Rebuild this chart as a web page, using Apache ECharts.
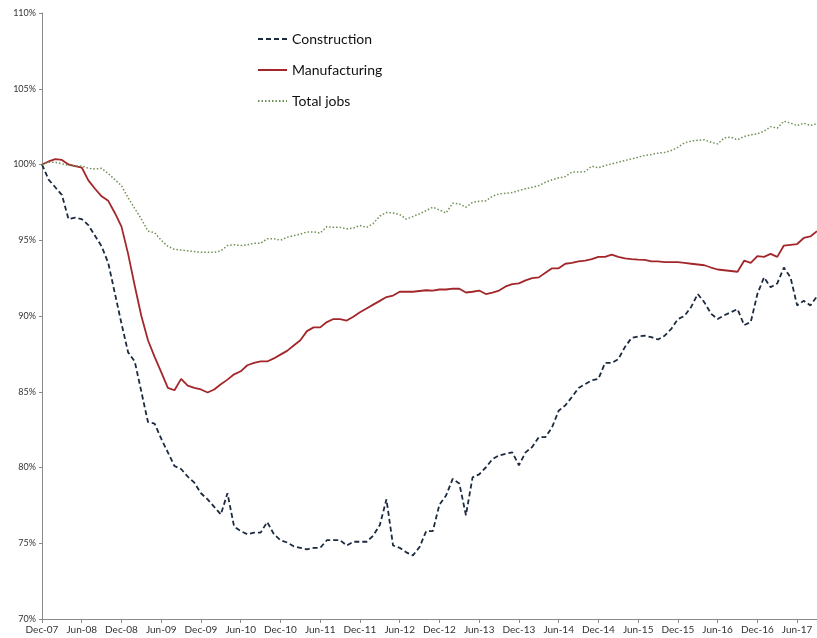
<!DOCTYPE html>
<html>
<head>
<meta charset="utf-8">
<script src="https://cdn.jsdelivr.net/npm/echarts@6/dist/echarts.min.js"></script>
<style>
  html, body { margin: 0; padding: 0; background: #fff; }
  #chart { width: 817px; height: 638px; }
</style>
</head>
<body>
<div id="chart"></div>
<script>
// monthly, Dec-07 .. Sep-17 (index relative to Dec-07 = 100%)
const monthNames = ['Jan', 'Feb', 'Mar', 'Apr', 'May', 'Jun', 'Jul', 'Aug', 'Sep', 'Oct', 'Nov', 'Dec']
const months = []
for (let i = 0; i < 118; i++) {
  const m = (11 + i) % 12
  const y = 7 + Math.floor((11 + i) / 12)
  months.push(monthNames[m] + '-' + String(y).padStart(2, '0'))
}

const construction = [
  100, 99.0, 98.5, 98.0, 96.4, 96.5, 96.4, 96.0, 95.3, 94.6,
  93.5, 91.5, 89.5, 87.6, 87.0, 85.0, 83.0, 82.9, 81.9, 81.0,
  80.1, 79.9, 79.4, 79.0, 78.3, 77.9, 77.4, 76.9, 78.3, 76.1,
  75.8, 75.6, 75.7, 75.7, 76.4, 75.6, 75.2, 75.05, 74.8, 74.7,
  74.6, 74.7, 74.7, 75.2, 75.2, 75.2, 74.85, 75.1, 75.1, 75.1,
  75.5, 76.2, 77.9, 74.85, 74.7, 74.4, 74.2, 74.75, 75.8, 75.8,
  77.55, 78.15, 79.25, 78.95, 76.85, 79.35, 79.55, 80.0, 80.55, 80.8,
  80.9, 81.0, 80.15, 81.0, 81.35, 82.0, 82.0, 82.65, 83.75, 84.1,
  84.65, 85.25, 85.5, 85.75, 85.85, 86.9, 86.9, 87.15, 87.95, 88.55,
  88.65, 88.7, 88.6, 88.45, 88.7, 89.15, 89.8, 90.0, 90.6, 91.45,
  90.9, 90.15, 89.8, 90.05, 90.25, 90.45, 89.4, 89.6, 91.45, 92.55,
  91.9, 92.15, 93.2, 92.55, 90.7, 91.0, 90.7, 91.3
]

const manufacturing = [
  100, 100.2, 100.35, 100.3, 100.0, 99.9, 99.8, 98.95, 98.4, 97.9,
  97.6, 96.8, 95.9, 94.1, 92.0, 90.0, 88.4, 87.3, 86.3, 85.25,
  85.1, 85.85, 85.4, 85.25, 85.15, 84.95, 85.15, 85.5, 85.8, 86.15,
  86.35, 86.75, 86.9, 87.0, 87.0, 87.2, 87.45, 87.7, 88.05, 88.4,
  89.0, 89.25, 89.25, 89.6, 89.8, 89.8, 89.7, 89.95, 90.25, 90.5,
  90.75, 91.0, 91.25, 91.35, 91.6, 91.6, 91.6, 91.65, 91.7, 91.68,
  91.75, 91.75, 91.8, 91.8, 91.55, 91.6, 91.68, 91.45, 91.55, 91.68,
  91.95, 92.1, 92.15, 92.35, 92.5, 92.55, 92.85, 93.15, 93.15, 93.45,
  93.5, 93.6, 93.65, 93.75, 93.9, 93.9, 94.05, 93.9, 93.8, 93.75,
  93.72, 93.7, 93.6, 93.6, 93.55, 93.55, 93.55, 93.5, 93.45, 93.4,
  93.35, 93.2, 93.07, 93.02, 92.97, 92.92, 93.65, 93.5, 93.95, 93.9,
  94.1, 93.9, 94.65, 94.7, 94.75, 95.15, 95.25, 95.6
]

const totalJobs = [
  100, 100.15, 100.15, 100.05, 99.95, 99.9, 99.9, 99.75, 99.7, 99.75,
  99.4, 99.0, 98.6, 97.8, 97.1, 96.4, 95.6, 95.5, 95.0, 94.6,
  94.4, 94.35, 94.3, 94.25, 94.2, 94.2, 94.2, 94.3, 94.65, 94.7,
  94.65, 94.7, 94.8, 94.8, 95.1, 95.1, 95.0, 95.2, 95.3, 95.4,
  95.55, 95.55, 95.47, 95.9, 95.85, 95.85, 95.75, 95.8, 95.97, 95.85,
  96.1, 96.6, 96.83, 96.8, 96.7, 96.4, 96.57, 96.75, 96.96, 97.18,
  97.0, 96.8, 97.45, 97.4, 97.18, 97.5, 97.58, 97.6, 97.9, 98.06,
  98.1, 98.15, 98.28, 98.4, 98.5, 98.6, 98.83, 98.99, 99.12, 99.2,
  99.5, 99.5, 99.53, 99.89, 99.78, 99.93, 100.04, 100.15, 100.26, 100.37,
  100.48, 100.6, 100.66, 100.75, 100.8, 100.92, 101.14, 101.43, 101.54, 101.6,
  101.63, 101.47, 101.36, 101.76, 101.8, 101.63, 101.85, 101.96, 102.02, 102.2,
  102.5, 102.4, 102.86, 102.73, 102.57, 102.73, 102.57, 102.7
]

const chart = echarts.init(document.getElementById('chart'))

const axisColor = '#8a8a8a'
const labelColor = '#333'
const fontFamily = 'Lato, "Open Sans", sans-serif'

chart.setOption({
  animation: false,
  grid: {
    left: 42,
    right: -3.5,
    top: 13,
    bottom: 19
  },
  legend: {
    orient: 'vertical',
    left: 252,
    top: 27,
    itemWidth: 29,
    itemHeight: 14,
    itemGap: 17,
    itemStyle: { opacity: 0 },
    textStyle: { fontSize: 14, color: '#111', fontFamily: fontFamily },
    data: ['Construction', 'Manufacturing', 'Total jobs']
  },
  xAxis: {
    type: 'category',
    boundaryGap: false,
    data: months,
    axisLine: { lineStyle: { color: axisColor, width: 1 } },
    axisTick: { interval: 5, length: 4, lineStyle: { color: axisColor } },
    axisLabel: { interval: 5, color: labelColor, fontSize: 10, fontFamily: fontFamily, margin: 6 },
    splitLine: { show: false }
  },
  yAxis: {
    type: 'value',
    min: 70,
    max: 110,
    interval: 5,
    axisLine: { show: true, lineStyle: { color: axisColor, width: 1 } },
    axisTick: { show: true, length: 3, lineStyle: { color: axisColor } },
    axisLabel: { formatter: '{value}%', color: labelColor, fontSize: 9, fontFamily: fontFamily, margin: 6 },
    splitLine: { show: false }
  },
  series: [
    {
      name: 'Construction',
      type: 'line',
      data: construction,
      symbol: 'none',
      lineStyle: { color: '#1c2a40', width: 1.8, type: [5, 3] },
      itemStyle: { color: '#1c2a40' }
    },
    {
      name: 'Manufacturing',
      type: 'line',
      data: manufacturing,
      symbol: 'none',
      lineStyle: { color: '#a3272a', width: 1.8 },
      itemStyle: { color: '#a3272a' }
    },
    {
      name: 'Total jobs',
      type: 'line',
      data: totalJobs,
      symbol: 'none',
      lineStyle: { color: '#6e8f55', width: 1.5, type: [1.5, 2] },
      itemStyle: { color: '#6e8f55' }
    }
  ]
})
</script>
</body>
</html>
